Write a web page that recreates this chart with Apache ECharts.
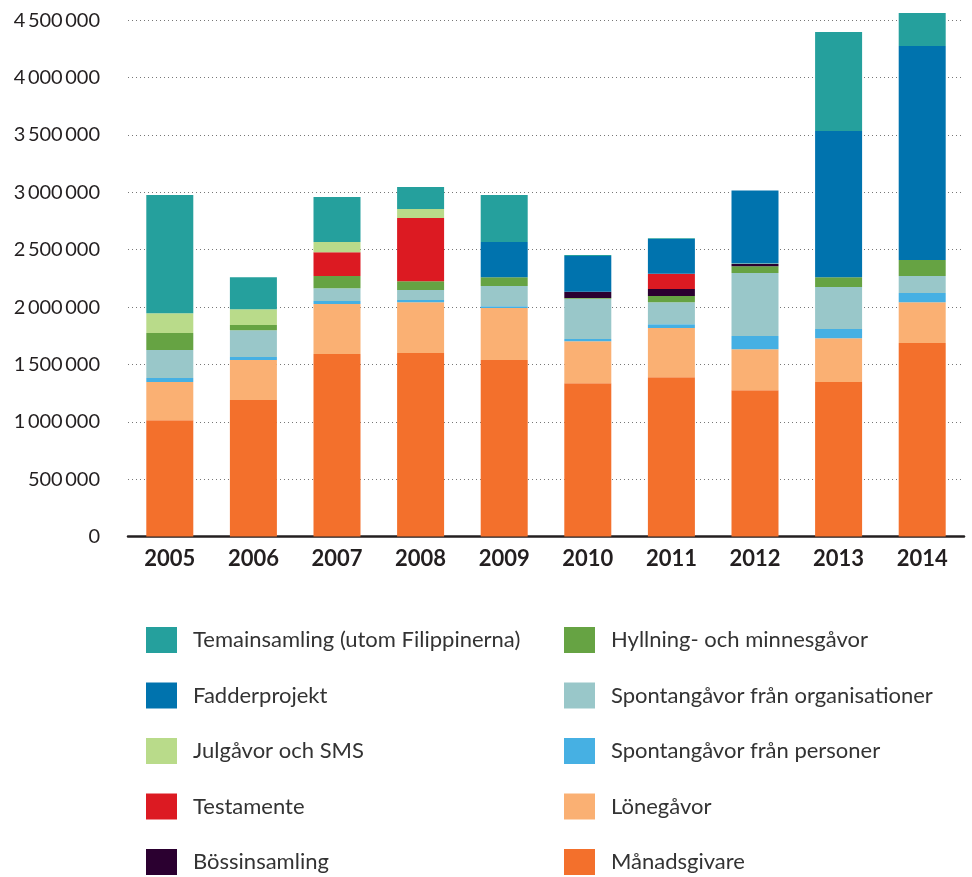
<!DOCTYPE html>
<html>
<head>
<meta charset="utf-8">
<script src="https://cdn.jsdelivr.net/npm/echarts@6/dist/echarts.min.js"></script>
<style>
  html, body { margin: 0; padding: 0; background: #fff; }
  #main { width: 972px; height: 877px; }
</style>
</head>
<body>
<div id="main"></div>
<script>
// år och insamlade belopp (kr) per kategori
const years = ['2005', '2006', '2007', '2008', '2009', '2010', '2011', '2012', '2013', '2014'];
const manadsgivare = [1014000, 1189000, 1590000, 1599000, 1538000, 1337000, 1389000, 1276000, 1346000, 1686000];
const lonegavor = [332000, 349000, 436000, 444000, 453000, 366000, 428000, 357000, 383000, 357000];
const spontanPersoner = [35000, 26000, 26000, 18000, 17000, 18000, 34000, 114000, 79000, 79000];
const spontanOrg = [244000, 235000, 113000, 87000, 175000, 351000, 192000, 549000, 366000, 148000];
const hyllning = [148000, 44000, 105000, 78000, 78000, 8000, 53000, 61000, 87000, 140000];
const bossinsamling = [0, 0, 0, 0, 0, 53000, 61000, 18000, 0, 0];
const testamente = [0, 0, 209000, 550000, 0, 0, 133000, 0, 0, 0];
const julgavor = [174000, 139000, 88000, 78000, 0, 0, 0, 5000, 0, 0];
const fadderprojekt = [0, 0, 0, 0, 306000, 313000, 303000, 637000, 1274000, 1866000];
const temainsamling = [1029000, 279000, 392000, 192000, 409000, 9000, 8000, 0, 863000, 288000];

const yTicks = [0, 500000, 1000000, 1500000, 2000000, 2500000, 3000000, 3500000, 4000000, 4500000];

// legend-kolumner (vänster / höger)
const leftNames = ['Temainsamling (utom Filippinerna)', 'Fadderprojekt', 'Julgåvor och SMS', 'Testamente', 'Bössinsamling'];
const rightNames = ['Hyllning- och minnesgåvor', 'Spontangåvor från organisationer', 'Spontangåvor från personer', 'Lönegåvor', 'Månadsgivare'];

// staplas nerifrån och upp
const stackSeries = [
  { name: 'Månadsgivare', data: manadsgivare, color: '#f3702c' },
  { name: 'Lönegåvor', data: lonegavor, color: '#fab073' },
  { name: 'Spontangåvor från personer', data: spontanPersoner, color: '#46b0e3' },
  { name: 'Spontangåvor från organisationer', data: spontanOrg, color: '#99c7c9' },
  { name: 'Hyllning- och minnesgåvor', data: hyllning, color: '#66a343' },
  { name: 'Bössinsamling', data: bossinsamling, color: '#2b0030' },
  { name: 'Testamente', data: testamente, color: '#dc1a22' },
  { name: 'Julgåvor och SMS', data: julgavor, color: '#b9db8a' },
  { name: 'Fadderprojekt', data: fadderprojekt, color: '#0073ae' },
  { name: 'Temainsamling (utom Filippinerna)', data: temainsamling, color: '#25a09d' },
];

const FONT = 'Lato, "Noto Sans", sans-serif';

function fmt(v) {
  return String(v).replace(/\B(?=(\d{3})+(?!\d))/g, '\u2009');
}

const myChart = echarts.init(document.getElementById('main'));

const legendBase = {
  orient: 'vertical',
  top: 627,
  padding: 0,
  itemWidth: 31,
  itemHeight: 26,
  itemGap: 29.5,
  icon: 'rect',
  selectedMode: false,
  textStyle: {
    color: '#333',
    fontFamily: FONT,
    fontSize: 22,
    padding: [0, 0, 0, 11],
  },
};

const option = {
  backgroundColor: '#fff',
  animation: false,
  grid: {
    left: 128,
    right: 8,
    top: 20.3,
    height: 516.2,
  },
  legend: [
    Object.assign({}, legendBase, { left: 146, data: leftNames }),
    Object.assign({}, legendBase, { left: 564, data: rightNames }),
  ],
  xAxis: {
    type: 'category',
    data: years,
    axisLine: { lineStyle: { color: '#231f20', width: 2.5 } },
    axisTick: { show: false },
    axisLabel: {
      color: '#231f20',
      fontFamily: FONT,
      fontWeight: 'bold',
      fontSize: 22,
      margin: 11,
    },
  },
  yAxis: {
    type: 'value',
    min: yTicks[0],
    max: yTicks[yTicks.length - 1],
    interval: 500000,
    axisLine: { show: false },
    axisTick: { show: false },
    axisLabel: {
      color: '#231f20',
      fontFamily: FONT,
      fontSize: 20,
      margin: 28,
      formatter: fmt,
    },
    splitLine: {
      lineStyle: { color: '#777', width: 1, type: [1, 3] },
    },
  },
  series: stackSeries.map(s => ({
    name: s.name,
    type: 'bar',
    stack: 'total',
    barWidth: 47,
    clip: false,
    itemStyle: { color: s.color },
    data: s.data,
  })),
};

myChart.setOption(option);
</script>
</body>
</html>
